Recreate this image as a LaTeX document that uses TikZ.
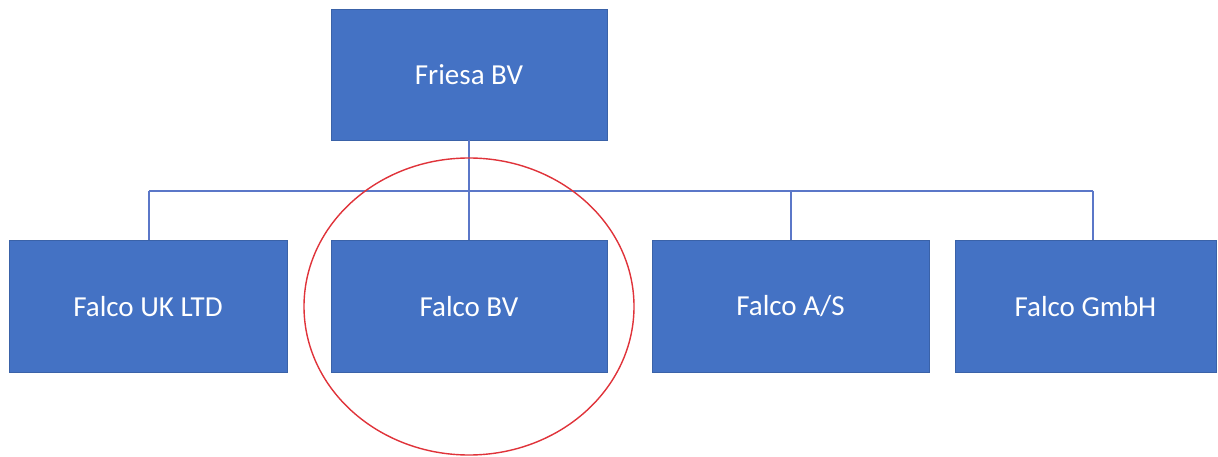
\documentclass[tikz,border=0pt]{standalone}
\usepackage{fontspec}
\setmainfont{Carlito}
\usetikzlibrary{shapes.geometric}
\definecolor{boxblue}{HTML}{4472C4}
\definecolor{boxedge}{HTML}{3A62A8}
\definecolor{linkblue}{HTML}{5B77C8}
\definecolor{ringred}{HTML}{E0333A}
\begin{document}
\begin{tikzpicture}[x=1pt,y=-1pt,
  orgbox/.style={rectangle, fill=boxblue, draw=boxedge, line width=0.8pt,
    text=white, font=\fontsize{29}{34}\selectfont, inner sep=0pt},
  link/.style={draw=linkblue, line width=1.3pt}]
\useasboundingbox (0,0) rectangle (1218,457);
\fill[white] (0,0) rectangle (1218,457);
\node[orgbox, minimum width=276pt, minimum height=131pt] (top) at (469,74.5) {Friesa BV};
\node[orgbox, minimum width=278pt, minimum height=132pt] (b1) at (148,306.5) {Falco UK LTD};
\node[orgbox, minimum width=276pt, minimum height=132pt] (b2) at (469,306.5) {Falco BV};
\node[orgbox, minimum width=277pt, minimum height=132pt] (b3) at (790.5,306.5) {Falco A/S};
\node[orgbox, minimum width=261pt, minimum height=132pt] (b4) at (1085.5,306.5) {Falco GmbH};
\coordinate (j1) at (149,191);
\coordinate (j2) at (469,191);
\coordinate (j3) at (791,191);
\coordinate (j4) at (1093,191);
\draw[link] (j1) -- (j4);
\draw[link] (top.south) -- (b2.north);
\draw[link] (j1) -- (j1 |- b1.north);
\draw[link] (j3) -- (j3 |- b3.north);
\draw[link] (j4) -- (j4 |- b4.north);
\node[draw=ringred, line width=1.4pt, ellipse, minimum width=330pt, minimum height=297pt, inner sep=0pt] (ring) at (469,306.5) {};
\end{tikzpicture}
\end{document}
